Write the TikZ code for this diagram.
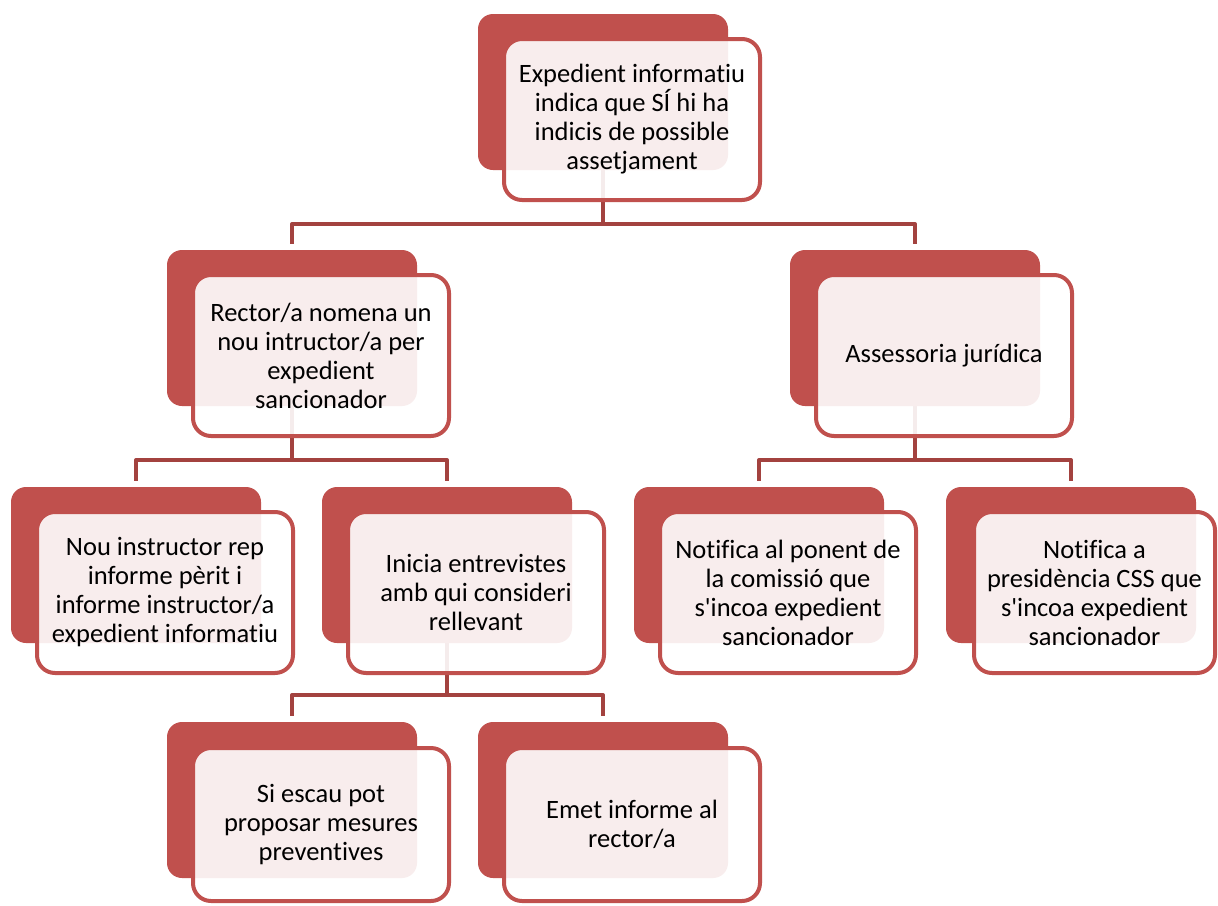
\documentclass[tikz,border=0pt]{standalone}
\usepackage{fontspec}
\setmainfont{Carlito}[Ligatures={NoCommon}]
\definecolor{boxred}{RGB}{192,80,77}
\definecolor{linkred}{RGB}{163,66,63}
\pgfdeclarelayer{bg}
\pgfdeclarelayer{links}
\pgfsetlayers{bg,links,main}
\tikzset{
  backbox/.style={rectangle, rounded corners=15pt, fill=boxred, minimum width=250pt, minimum height=156pt, inner sep=0pt},
  frontbox/.style={rectangle, rounded corners=18pt, draw=boxred, line width=4pt, fill=white, fill opacity=0.9, text opacity=1, draw opacity=1, minimum width=256pt, minimum height=161pt, inner sep=2pt, align=center, text=black, font=\fontsize{26.5}{29}\selectfont},
  link/.style={draw=linkred, line width=4pt, line join=round, shorten >=6pt}
}
\begin{document}
\begin{tikzpicture}[x=1pt,y=-1pt]
\begin{pgfonlayer}{bg}
\fill[white] (0,0) rectangle (1218,905);
\end{pgfonlayer}
\useasboundingbox (0,0) rectangle (1218,905);

% top
\node[backbox] (topb) at (603,92) {};
\node[frontbox] (topf) at (632,119.5) {Expedient informatiu\\indica que SÍ hi ha\\indicis de possible\\assetjament};

% level 2
\node[backbox] (rectb) at (292,328) {};
\node[frontbox] (rectf) at (321,355.5) {Rector/a nomena un\\nou intructor/a per\\expedient\\sancionador};
\node[backbox] (assb) at (915,328) {};
\node[frontbox] (assf) at (944,355.5) {Assessoria jurídica};

% level 3
\node[backbox] (noub) at (136,565) {};
\node[frontbox] (nouf) at (165,592.5) {Nou instructor rep\\informe pèrit i\\informe instructor/a\\expedient informatiu};
\node[backbox] (inib) at (447,565) {};
\node[frontbox] (inif) at (476,592.5) {Inicia entrevistes\\amb qui consideri\\rellevant};
\node[backbox] (ponb) at (759,565) {};
\node[frontbox] (ponf) at (788,592.5) {Notifica al ponent de\\la comissió que\\s\textquotesingle incoa expedient\\sancionador};
\node[backbox] (presb) at (1071,565) {};
\node[frontbox, minimum width=241pt] (presf) at (1094.5,592.5) {Notifica a\\presidència CSS que\\s\textquotesingle incoa expedient\\sancionador};

% level 4
\node[backbox] (sib) at (292,800) {};
\node[frontbox, minimum height=153pt] (sif) at (321,824.5) {Si escau pot\\proposar mesures\\preventives};
\node[backbox] (emb) at (603,800) {};
\node[frontbox, minimum height=153pt] (emf) at (632,824.5) {Emet informe al\\rector/a};

% connectors
\coordinate (bar1) at (603,224);
\coordinate (bar2) at (292,460);
\coordinate (bar3) at (915,460);
\coordinate (bar4) at (447,695);
\begin{pgfonlayer}{links}
\draw[link] (topb.south) -- (bar1) -| (rectb.north);
\draw[link] (topb.south) -- (bar1) -| (assb.north);
\draw[link] (rectb.south) -- (bar2) -| (noub.north);
\draw[link] (rectb.south) -- (bar2) -| (inib.north);
\draw[link] (assb.south) -- (bar3) -| (ponb.north);
\draw[link] (assb.south) -- (bar3) -| (presb.north);
\draw[link] (inib.south) -- (bar4) -| (sib.north);
\draw[link] (inib.south) -- (bar4) -| (emb.north);
\end{pgfonlayer}
\end{tikzpicture}
\end{document}
